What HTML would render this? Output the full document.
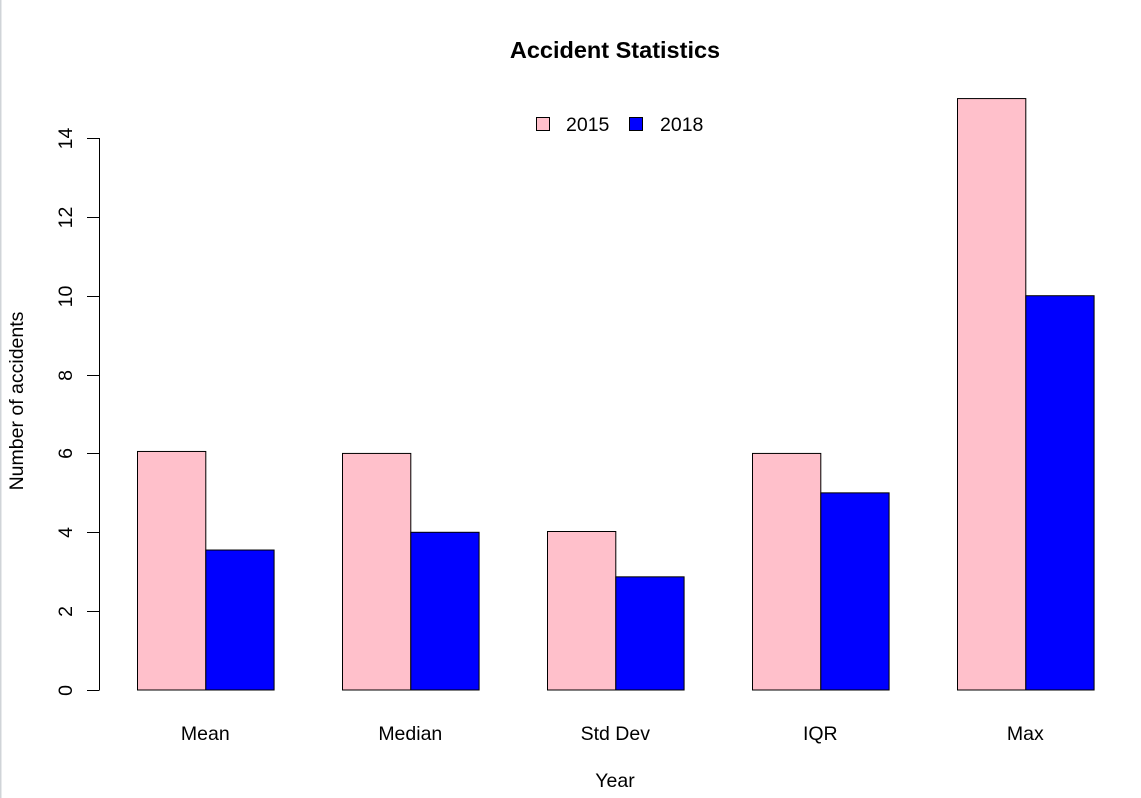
<!DOCTYPE html>
<html><head><meta charset="utf-8"><style>
html,body{margin:0;padding:0;background:#fff;}
svg{display:block;font-family:"Liberation Sans",Arial,sans-serif;}
</style></head><body>
<svg id="chart" width="1141" height="798" viewBox="0 0 1141 798">
<rect x="0" y="0" width="1141" height="798" fill="#fff"/>
<line x1="0.5" y1="0" x2="0.5" y2="798" stroke="#d0d4d8" stroke-width="2"/>
<text x="615" y="58" font-size="23.5" font-weight="bold" text-anchor="middle">Accident Statistics</text>
<text transform="translate(23,401) rotate(-90)" font-size="19.5" text-anchor="middle">Number of accidents</text>
<text x="615" y="787" font-size="19.5" text-anchor="middle">Year</text>
<g id="legend">
<rect x="536.5" y="117.5" width="13" height="13" fill="pink" stroke="#000"/>
<text x="566" y="131" font-size="19.5">2015</text>
<rect x="629.5" y="117.5" width="13" height="13" fill="blue" stroke="#000"/>
<text x="660" y="131" font-size="19.5">2018</text>
</g>
<g id="axis"></g>
<g id="bars"></g>
<g id="cats"></g>
</svg>
<script>
const categories = ["Mean","Median","Std Dev","IQR","Max"];
const values2015 = [6.05, 6, 4.02, 6, 15];
const values2018 = [3.55, 4, 2.87, 5, 10];
const yTicks = [0,2,4,6,8,10,12,14];

const NS = "http://www.w3.org/2000/svg";
const y0 = 690, unit = (690-138)/14;
function yScale(v){ return y0 - v*unit; }
const barW = 68.3, groupStep = 205, x0 = 137;
function xScale(groupIndex, seriesIndex){ return x0 + groupIndex*groupStep + seriesIndex*barW; }
function mk(tag, attrs, parent){
  const e = document.createElementNS(NS, tag);
  for (const k in attrs) e.setAttribute(k, attrs[k]);
  parent.appendChild(e); return e;
}
const axis = document.getElementById('axis');
const al = mk('line',{x1:99.5,x2:99.5,y1:yScale(yTicks[0]),y2:yScale(yTicks[yTicks.length-1]),stroke:'#000'},axis);


yTicks.forEach(t=>{
  const y = Math.round(yScale(t))+0.5;
  const tl = mk('line',{x1:87,x2:99.5,y1:y,y2:y,stroke:'#000'},axis);
  
  
  const tx = mk('text',{transform:`translate(72,${y}) rotate(-90)`,'font-size':19.5,'text-anchor':'middle'},axis);
  tx.textContent = t;
  
  
});
const bars = document.getElementById('bars');
const cats = document.getElementById('cats');
categories.forEach((c,i)=>{
  [[values2015,'pink','2015'],[values2018,'blue','2018']].forEach(([arr,col,yr],s)=>{
    const x = xScale(i,s), yt = yScale(arr[i]);
    const r = mk('rect',{x:x+0.5,y:yt,width:barW,height:y0-yt,fill:col,stroke:'#000','stroke-width':1},bars);
    
    
  });
  const t = mk('text',{x:xScale(i,1),y:740,'font-size':19.5,'text-anchor':'middle'},cats);
  t.textContent = c;
  
  
});
</script>
</body></html>
